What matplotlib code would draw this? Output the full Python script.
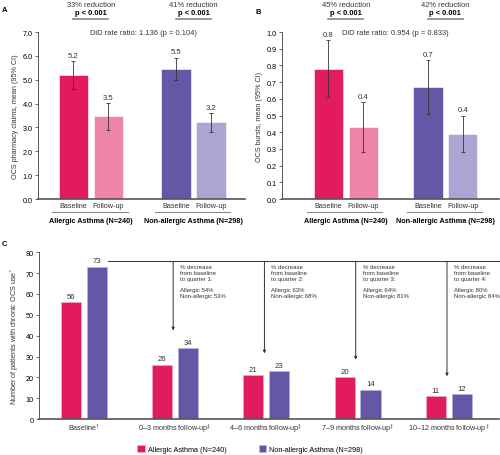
import matplotlib
matplotlib.use('Agg')
import matplotlib.pyplot as plt
import matplotlib.transforms as mtransforms
import numpy as np

plt.rcParams['font.family'] = ['Liberation Sans', 'DejaVu Sans']
plt.rcParams['mathtext.fontset'] = 'custom'
plt.rcParams['mathtext.rm'] = 'Liberation Sans'

# colours
PINK = '#E21A5F'
PINK_LIGHT = '#EF84AA'
PURPLE = '#6556A6'
PURPLE_LIGHT = '#ABA5D3'
AXIS = '#555555'

# panel A data
a_vals = [5.18, 3.47, 5.47, 3.21]
a_low = [4.62, 2.90, 5.00, 2.80]
a_high = [5.77, 4.03, 5.92, 3.61]
a_labels = ['5.2', '3.5', '5.5', '3.2']
a_reduction = ['33% reduction', '41% reduction']
a_did = 'DiD rate ratio: 1.136 (p = 0.104)'

# panel B data
b_vals = [0.78, 0.43, 0.67, 0.39]
b_low = [0.61, 0.28, 0.51, 0.28]
b_high = [0.95, 0.58, 0.83, 0.50]
b_labels = ['0.8', '0.4', '0.7', '0.4']
b_reduction = ['45% reduction', '42% reduction']
b_did = 'DiD rate ratio: 0.954 (p = 0.833)'

groups = ['Allergic Asthma (N=240)', 'Non-allergic Asthma (N=298)']
periods = ['Baseline', 'Follow-up']

# panel C data
c_periods = [r'Baseline$^{\dagger}$', r'0–3 months follow-up$^{\ddagger}$',
             r'4–6 months follow-up$^{\ddagger}$', r'7–9 months follow-up$^{\ddagger}$',
             r'10–12 months follow-up$^{\ddagger}$']
c_allergic = [56, 26, 21, 20, 11]
c_nonallergic = [73, 34, 23, 14, 12]
c_pct_allergic = [54, 63, 64, 80]
c_pct_nonallergic = [53, 68, 81, 84]

FS = 5.2


def style_axis(ax):
    for s in ['top', 'right']:
        ax.spines[s].set_visible(False)
    ax.spines['left'].set_color(AXIS)
    ax.spines['left'].set_linewidth(0.7)
    ax.spines['bottom'].set_color(AXIS)
    ax.spines['bottom'].set_linewidth(1.2)
    ax.tick_params(axis='y', length=2.2, width=0.6, color=AXIS, labelsize=FS, pad=1.5)
    ax.tick_params(axis='x', length=0, labelsize=FS, pad=2)


def paired_panel(ax, pos, vals, low, high, labels, reduction, ylim, yticks, ylabel, lab_off):
    colors = [PINK, PINK_LIGHT, PURPLE, PURPLE_LIGHT]
    vals = np.array(vals)
    err = [vals - np.array(low), np.array(high) - vals]
    ax.bar(pos, vals, width=0.84, color=colors, edgecolor='white', linewidth=0.4, zorder=2)
    ax.errorbar(pos, vals, yerr=err, fmt='none', ecolor='#333333', elinewidth=0.6,
                capsize=1.3, capthick=0.6, zorder=3)
    for x, h, t in zip(pos, high, labels):
        ax.text(x, h + lab_off, t, ha='center', va='bottom', fontsize=5.6, color='#333333')
    ax.set_ylim(*ylim)
    ax.set_yticks(yticks)
    ax.set_yticklabels(['%.1f' % v for v in yticks])
    ax.set_xticks(pos)
    ax.set_xticklabels(periods * 2, color='#333333')
    ax.set_ylabel(ylabel, fontsize=FS, labelpad=3, color='#333333')
    style_axis(ax)
    tr = mtransforms.blended_transform_factory(ax.transData, ax.transAxes)
    for g in range(2):
        p0, p1 = pos[2 * g], pos[2 * g + 1]
        # underline and group name below the bars
        ax.plot([p0 - 0.6, p1 + 0.55], [-0.075, -0.075], transform=tr, color='#888888',
                lw=0.8, clip_on=False)
        ax.text((p0 + p1) / 2, -0.13, groups[g], transform=tr, ha='center', va='center',
                fontsize=FS, fontweight='bold')
        # reduction note above the bars
        ax.plot([p0, p1], [1.078, 1.078], transform=tr, color='#888888', lw=1.2, clip_on=False)
        ax.text((p0 + p1) / 2, 1.118, 'p < 0.001', transform=tr, ha='center', va='center',
                fontsize=5.4, fontweight='bold')
        ax.text((p0 + p1) / 2, 1.168, reduction[g], transform=tr, ha='center', va='center',
                fontsize=5.4, color='#333333')


fig = plt.figure(figsize=(5.0, 4.56), dpi=100)

axA = fig.add_axes([0.076, 0.5614, 0.414, 0.366])
posA = [0, 1, 2.93, 3.93]
paired_panel(axA, posA, a_vals, a_low, a_high, a_labels, a_reduction,
             (0, 7.0), np.arange(0, 7.01, 1.0), 'OCS pharmacy claims, mean (95% CI)', 0.1)
axA.set_xlim(-1.01, 4.9)
axA.text(0.507, 1.0, a_did, transform=axA.transAxes, ha='center', va='center',
         fontsize=5.4, color='#333333')

axB = fig.add_axes([0.564, 0.5614, 0.434, 0.366])
posB = [0, 1, 2.86, 3.86]
paired_panel(axB, posB, b_vals, b_low, b_high, b_labels, b_reduction,
             (0, 1.0), np.arange(0, 1.001, 0.1), 'OCS bursts, mean (95% CI)', 0.015)
axB.set_xlim(-1.33, 4.9)
axB.text(0.52, 1.0, b_did, transform=axB.transAxes, ha='center', va='center',
         fontsize=5.4, color='#333333')

# panel C
axC = fig.add_axes([0.078, 0.0789, 0.92, 0.3656])
xc = np.arange(len(c_periods))
off, w = 0.142, 0.22
axC.bar(xc - off, c_allergic, width=w, color=PINK, edgecolor='#F6B0C8', linewidth=0.4,
        label='Allergic Asthma (N=240)', zorder=2)
axC.bar(xc + off, c_nonallergic, width=w, color=PURPLE, edgecolor='#B9B2DC', linewidth=0.4,
        label='Non-allergic Asthma (N=298)', zorder=2)
for x, a, n in zip(xc, c_allergic, c_nonallergic):
    axC.text(x - off, a + 1.2, str(a), ha='center', va='bottom', fontsize=5.6, color='#333333')
    axC.text(x + off, n + 1.2, str(n), ha='center', va='bottom', fontsize=5.6, color='#333333')
axC.set_xlim(-0.49, 4.55)
axC.set_ylim(0, 80)
axC.set_yticks(np.arange(0, 81, 10))
axC.set_xticks(xc)
axC.set_xticklabels(c_periods, color='#333333')
axC.set_ylabel(r'Number of patients with chronic OCS use$^{*}$', fontsize=FS, labelpad=3,
               color='#333333')
style_axis(axC)

# bracket line from baseline with arrows down to each quarter
line_y = 75.7
axC.plot([0.27, 4.55], [line_y, line_y], color='#333333', lw=0.7, clip_on=False)
for q in range(4):
    gx = xc[q + 1] - 0.02
    end = max(c_allergic[q + 1], c_nonallergic[q + 1]) + 8.5
    axC.annotate('', xy=(gx, end), xytext=(gx, line_y),
                 arrowprops=dict(arrowstyle='-|>', color='#333333', lw=0.7,
                                 mutation_scale=4, shrinkA=0, shrinkB=0))
    axC.text(gx + 0.075, 74.6, '%% decrease\nfrom baseline\nto quarter %d:' % (q + 1),
             ha='left', va='top', fontsize=4.3, linespacing=1.25, color='#333333')
    axC.text(gx + 0.075, 63.4,
             'Allergic %d%%\nNon-allergic %d%%' % (c_pct_allergic[q], c_pct_nonallergic[q]),
             ha='left', va='top', fontsize=4.3, linespacing=1.25, color='#333333')

h, l = axC.get_legend_handles_labels()
fig.legend(h, l, loc='center', bbox_to_anchor=(0.5, 0.013), ncol=2, frameon=False,
           fontsize=FS, handlelength=1.0, handleheight=1.0, handletextpad=0.4,
           columnspacing=4.5)

# panel letters
fig.text(0.004, 0.978, 'A', fontsize=5.5, fontweight='bold', va='center')
fig.text(0.51, 0.972, 'B', fontsize=5.5, fontweight='bold', va='center')
fig.text(0.004, 0.463, 'C', fontsize=5.5, fontweight='bold', va='center')

fig.savefig('out.png', dpi=100)
